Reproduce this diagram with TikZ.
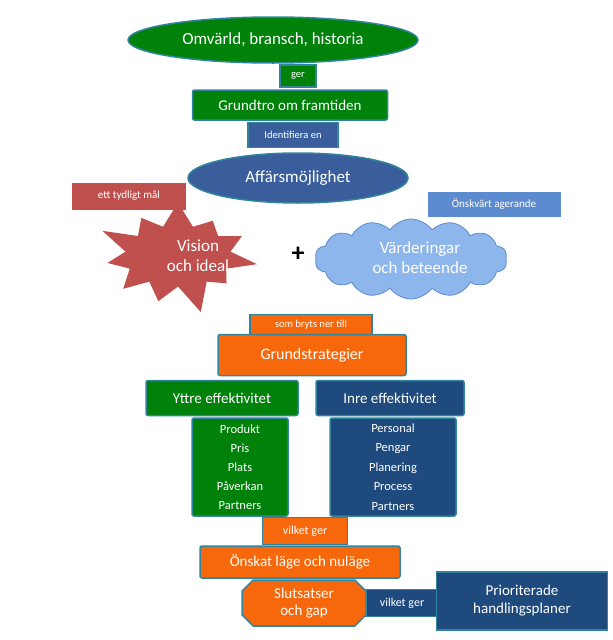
\documentclass[tikz,border=0pt]{standalone}
\usepackage{fontspec}
\setmainfont{Carlito}
\usetikzlibrary{shapes.geometric,shapes.symbols,shapes.misc}
\definecolor{grn}{HTML}{00820A}
\definecolor{blu}{HTML}{1F4A7E}
\definecolor{mblu}{HTML}{3A5E9C}
\definecolor{red1}{HTML}{C0504D}
\definecolor{org}{HTML}{F7680C}
\definecolor{lblu}{HTML}{8DB6EC}
\definecolor{sblu}{HTML}{5C8BD0}
\definecolor{edge}{HTML}{31849B}
\tikzset{
 base/.style={draw=edge,line width=1.5pt,text=white,inner sep=0pt,align=center},
 lbl/.style={base,font=\fontsize{10.5}{12}\selectfont},
 box/.style={base,rounded corners=2pt}
}
\begin{document}
\begin{tikzpicture}[x=1pt,y=-1pt]
\useasboundingbox (0,0) rectangle (613,640);
\node[base,ellipse,fill=grn,minimum width=290pt,minimum height=46pt,font=\fontsize{17}{19}\selectfont] (omv) at (273,40) {Omvärld, bransch, historia};
\node[lbl,fill=grn,minimum width=36pt,minimum height=22pt] (ger) at (298,76) {ger};
\node[box,fill=grn,minimum width=195pt,minimum height=30pt,font=\fontsize{15}{17}\selectfont] (grt) at (290,105) {Grundtro om framtiden};
\node[lbl,fill=mblu,minimum width=90pt,minimum height=25pt] (ide) at (293,135) {Identifiera en};
\node[base,ellipse,fill=mblu,minimum width=220pt,minimum height=50pt,font=\fontsize{17}{19}\selectfont] (aff) at (298,178) {Affärsmöjlighet};
\node[lbl,draw=none,fill=red1,minimum width=114pt,minimum height=27pt,font=\fontsize{11}{12}\selectfont] (mal) at (129,196) {ett tydligt mål};
\node[starburst,fill=red1,draw=none,starburst points=11,starburst point height=32pt,minimum width=170pt,minimum height=125pt] (vis) at (178,256) {};
\node[text=white,align=center,font=\fontsize{17}{20}\selectfont] (vist) at (198,256) {Vision\\och ideal};
\node[font=\fontsize{26}{26}\bfseries] (plus) at (298,254) {+};
\node[cloud,cloud puffs=14,cloud puff arc=110,aspect=2.6,fill=lblu,draw=sblu,line width=0.8pt,minimum width=192pt,minimum height=80pt] (cld) at (411,259) {};
\node[text=white,align=center,font=\fontsize{17}{20}\selectfont] (cldt) at (420,258) {Värderingar\\och beteende};
\node[draw=sblu,fill=sblu,text=white,minimum width=132pt,minimum height=24pt,inner sep=0pt,font=\fontsize{11}{12}\selectfont] (onsk) at (494,204) {Önskvärt agerande};
\node[lbl,fill=org,minimum width=122pt,minimum height=21pt] (som) at (311,325) {som bryts ner till};
\node[box,fill=org,minimum width=188pt,minimum height=41pt,font=\fontsize{16}{18}\selectfont] (gs) at (312,355) {Grundstrategier};
\node[box,fill=grn,minimum width=152pt,minimum height=35pt,font=\fontsize{15}{17}\selectfont] (ytt) at (222,398) {Yttre effektivitet};
\node[box,fill=blu,minimum width=148pt,minimum height=35pt,font=\fontsize{15}{17}\selectfont] (inr) at (390,398) {Inre effektivitet};
\node[box,fill=grn,minimum width=96pt,minimum height=98pt,font=\fontsize{12.5}{19}\selectfont] (gl) at (240,467) {Produkt\\Pris\\Plats\\Påverkan\\Partners};
\node[box,fill=blu,minimum width=126pt,minimum height=98pt,font=\fontsize{12.5}{19.5}\selectfont] (bl) at (393,467) {Personal\\Pengar\\Planering\\Process\\Partners};
\node[lbl,fill=org,minimum width=85pt,minimum height=27pt,font=\fontsize{12}{13}\selectfont] (vg1) at (305,531) {vilket ger};
\node[box,fill=org,minimum width=200pt,minimum height=32pt,font=\fontsize{15}{17}\selectfont] (ol) at (300,562) {Önskat läge och nuläge};
\node[lbl,fill=blu,minimum width=72pt,minimum height=27pt,font=\fontsize{12}{13}\selectfont] (vg2) at (402,603) {vilket ger};
\node[base,chamfered rectangle,chamfered rectangle xsep=8pt,fill=org,minimum width=124pt,minimum height=46pt,font=\fontsize{15}{17}\selectfont] (slut) at (304,603) {Slutsatser\\och gap};
\node[base,fill=blu,minimum width=171pt,minimum height=58pt,font=\fontsize{15}{18}\selectfont] (prio) at (522,601) {Prioriterade\\handlingsplaner};
\end{tikzpicture}
\end{document}
